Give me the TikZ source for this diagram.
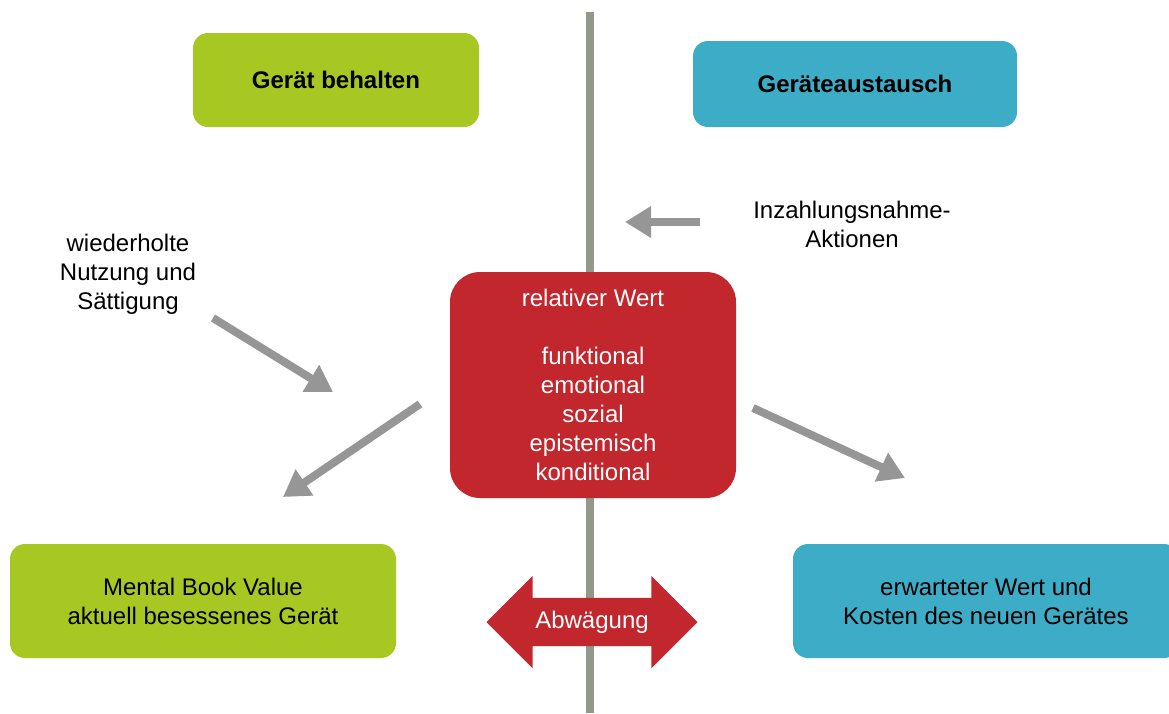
\documentclass[tikz,border=0pt]{standalone}
\usepackage{fontspec}
\setmainfont{Liberation Sans}
\usetikzlibrary{shapes,arrows.meta,positioning}
\definecolor{keepgreen}{RGB}{167,200,35}
\definecolor{swapblue}{RGB}{61,172,199}
\definecolor{valuered}{RGB}{193,39,45}
\definecolor{axisgray}{RGB}{146,153,138}
\definecolor{arrowgray}{RGB}{150,150,150}
\begin{document}
\begin{tikzpicture}[x=1pt, y=-1pt,
    box/.style={rectangle, rounded corners=15pt, align=center, inner sep=0pt, font=\fontsize{24}{29}\selectfont},
    keepbox/.style={box, fill=keepgreen},
    swapbox/.style={box, fill=swapblue},
    valuebox/.style={box, fill=valuered, rounded corners=30pt, text=white, minimum width=286pt, minimum height=226pt},
    note/.style={align=center, font=\fontsize{24}{29}\selectfont},
    arrow/.style={-{Triangle[length=26pt, width=30pt]}, line width=8pt, arrowgray},
    weigh/.style={double arrow, double arrow head extend=22pt, fill=valuered, text=white, minimum height=211pt, inner xsep=0pt, inner ysep=13pt, text height=17pt, text depth=5pt, font=\fontsize{24}{29}\selectfont}
]
\useasboundingbox (0,0) rectangle (1169,713);

% separation line between both decisions
\coordinate (axis_top) at (590,12);
\coordinate (axis_bot) at (590,713);
\draw[axisgray, line width=8pt] (axis_top) -- (axis_bot);

% decisions (top row)
\node[keepbox, minimum width=286pt, minimum height=94pt] (keep) at (336,80) {\textbf{Gerät behalten}};
\node[swapbox, minimum width=324pt, minimum height=86pt] (swap) at (855,84) {\textbf{Geräteaustausch}};

% influences
\node[note] (tradein) at (852,224) {Inzahlungsnahme-\\Aktionen};
\node[note] (usage) at (128,274) {wiederholte\\Nutzung und\\Sättigung};

% relative value in the middle
\node[valuebox] (value) at (593,385) {relativer Wert\\[29pt]funktional\\emotional\\sozial\\epistemisch\\konditional};

% values compared (bottom row)
\node[keepbox, minimum width=386pt, minimum height=114pt] (mbv) at (203,601) {Mental Book Value\\aktuell besessenes Gerät};
\node[swapbox, minimum width=386pt, minimum height=114pt] (expected) at (986,601) {erwarteter Wert und\\Kosten des neuen Gerätes};
\node[weigh] (tradeoff) at (592,622) {Abwägung};

% gray arrows
\coordinate (tradein_from) at (700,222);
\coordinate (tradein_to) at (625,222);
\coordinate (usage_from) at (213,318);
\coordinate (usage_to) at (333,392);
\coordinate (mbv_from) at (420,404);
\coordinate (mbv_to) at (283,497);
\coordinate (exp_from) at (753,408);
\coordinate (exp_to) at (905,478);
\draw[arrow] (tradein_from) -- (tradein_to);
\draw[arrow] (usage_from) -- (usage_to);
\draw[arrow] (mbv_from) -- (mbv_to);
\draw[arrow] (exp_from) -- (exp_to);

\end{tikzpicture}
\end{document}
